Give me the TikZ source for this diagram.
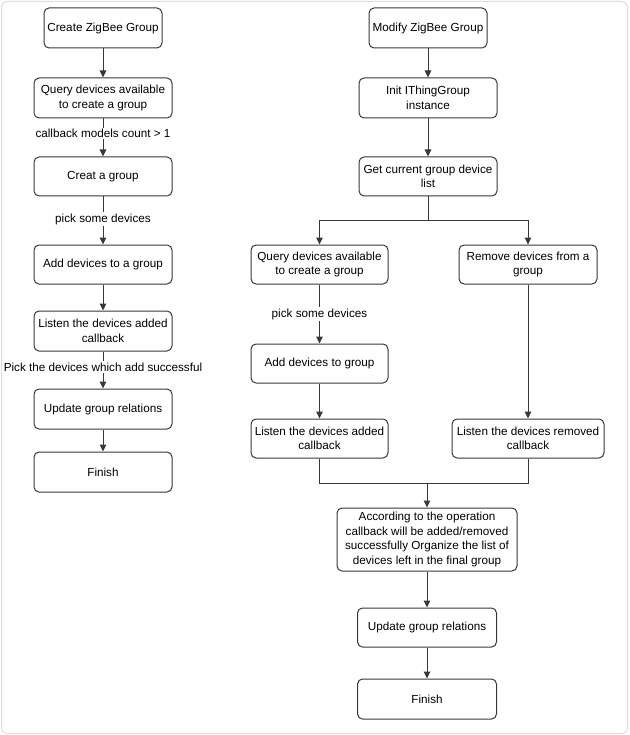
\documentclass[tikz,border=0pt]{standalone}
\usepackage{fontspec}
\setmainfont{Liberation Sans}
\usetikzlibrary{arrows.meta}
\definecolor{edge}{HTML}{383838}
\definecolor{frame}{HTML}{DDDDDD}
\begin{document}
\begin{tikzpicture}[x=1pt,y=-1pt,
  box/.style={draw=edge,line width=1pt,rounded corners=5pt,fill=white,align=center,
    minimum height=40pt,inner sep=2pt,font=\fontsize{11.7}{14.5}\selectfont,text=black},
  flow/.style={draw=edge,line width=1pt,-{Triangle[length=7pt,width=6.5pt]}},
  plain/.style={draw=edge,line width=1pt},
  lbl/.style={fill=white,inner sep=1.5pt,font=\fontsize{11.7}{14}\selectfont,text=black}]
\useasboundingbox (0,0) rectangle (629,735);
\draw[frame,line width=1pt,rounded corners=6pt] (1.5,1.5) rectangle (627.5,733.5);

% left column
\node[box,minimum width=118pt] (c1) at (103,28) {Create ZigBee Group};
\node[box,minimum width=138pt] (c2) at (103,98) {Query devices available\\to create a group};
\node[box,minimum width=138pt,minimum height=39pt] (c3) at (103,176.5) {Creat a group};
\node[box,minimum width=138pt,minimum height=39pt] (c4) at (103,264.5) {Add devices to a group};
\node[box,minimum width=138pt] (c5) at (103,331) {Listen the devices added\\callback};
\node[box,minimum width=138pt] (c6) at (103,409) {Update group relations};
\node[box,minimum width=138pt] (c7) at (103,472) {Finish};

\draw[flow] (c1) -- (c2);
\draw[flow] (c2) -- node[lbl,pos=0.4] {callback models count > 1} (c3);
\draw[flow] (c3) -- node[lbl,pos=0.47] {pick some devices} (c4);
\draw[flow] (c4) -- (c5);
\draw[flow] (c5) -- node[lbl,pos=0.42] {Pick the devices which add successful} (c6);
\draw[flow] (c6) -- (c7);

% right column
\node[box,minimum width=118pt] (r1) at (428,28) {Modify ZigBee Group};
\node[box,minimum width=138pt] (r2) at (428,98) {Init IThingGroup\\instance};
\node[box,minimum width=138pt,minimum height=39pt] (r3) at (428,176.5) {Get current group device\\list};
\node[box,minimum width=137pt,minimum height=39pt] (r4) at (319.5,264.5) {Query devices available\\to create a group};
\node[box,minimum width=138pt,minimum height=39pt] (r5) at (528,264.5) {Remove devices from a\\group};
\node[box,minimum width=137pt,minimum height=39pt] (r6) at (319.5,363.5) {Add devices to group};
\node[box,minimum width=137pt,minimum height=39pt] (r7) at (319.5,438.5) {Listen the devices added\\callback};
\node[box,minimum width=152pt,minimum height=39pt] (r8) at (528,438.5) {Listen the devices removed\\callback};
\node[box,minimum width=180pt,minimum height=63pt] (r9) at (427,539.5) {According to the operation\\callback will be added/removed\\successfully Organize the list of\\devices left in the final group};
\node[box,minimum width=139pt,minimum height=39pt] (r10) at (427,627.5) {Update group relations};
\node[box,minimum width=139pt] (r11) at (427,699) {Finish};

\coordinate (split) at (428,220);
\coordinate (merge) at (427,483);

\draw[flow] (r1) -- (r2);
\draw[flow] (r2) -- (r3);
\draw[plain] (r3.south) -- (split);
\draw[flow] (split) -| (r4.north);
\draw[flow] (split) -| (r5.north);
\draw[flow] (r4) -- node[lbl,pos=0.5] {pick some devices} (r6);
\draw[flow] (r6) -- (r7);
\draw[flow] (r5) -- (r8);
\draw[plain] (r7.south) |- (merge);
\draw[plain] (r8.south) |- (merge);
\draw[flow] (merge) -- (r9.north);
\draw[flow] (r9) -- (r10);
\draw[flow] (r10) -- (r11);
\end{tikzpicture}
\end{document}
